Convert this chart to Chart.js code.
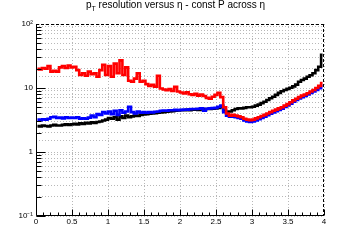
<!DOCTYPE html>
<html>
<head>
<meta charset="utf-8">
<script src="https://cdn.jsdelivr.net/npm/chart.js@4/dist/chart.umd.min.js"></script>
<style>
html,body{margin:0;padding:0;background:#fff;}
#wrap{position:relative;width:360px;height:240px;}
#title{position:absolute;left:86px;top:-1px;font:10px "Liberation Sans",Arial,sans-serif;color:#000;white-space:nowrap;}
#title sub{font-size:7px;vertical-align:-3px;line-height:0;}
canvas{position:absolute;left:0;top:0;}
</style>
</head>
<body>
<div id="wrap">
<canvas id="c" width="360" height="240"></canvas>
<div id="title">p<sub>T</sub> resolution versus η - const P across η</div>
</div>
<script>
const etaCenters = [0.02,0.06,0.10,0.14,0.18,0.22,0.26,0.30,0.34,0.38,
0.42,0.46,0.50,0.54,0.58,0.62,0.66,0.70,0.74,0.78,
0.82,0.86,0.90,0.94,0.98,1.02,1.06,1.10,1.14,1.18,
1.22,1.26,1.30,1.34,1.38,1.42,1.46,1.50,1.54,1.58,
1.62,1.66,1.70,1.74,1.78,1.82,1.86,1.90,1.94,1.98,
2.02,2.06,2.10,2.14,2.18,2.22,2.26,2.30,2.34,2.38,
2.42,2.46,2.50,2.54,2.58,2.62,2.66,2.70,2.74,2.78,
2.82,2.86,2.90,2.94,2.98,3.02,3.06,3.10,3.14,3.18,
3.22,3.26,3.30,3.34,3.38,3.42,3.46,3.50,3.54,3.58,
3.62,3.66,3.70,3.74,3.78,3.82,3.86,3.90,3.94,3.98];

const blackRes = [2.55,2.5,2.6,2.55,2.5,2.6,2.65,2.6,2.6,2.65,2.7,2.65,2.7,
2.75,2.7,2.8,2.75,2.85,2.8,2.9,2.85,2.95,3.0,3.1,3.2,
3.4,3.3,3.5,3.2,3.6,3.4,3.7,3.5,3.6,3.7,3.65,3.8,3.85,
3.9,3.95,4.0,4.05,4.1,4.15,4.2,4.25,4.3,4.35,4.4,4.45,
4.5,4.5,4.55,4.5,4.6,4.6,4.55,4.65,4.6,4.7,4.7,4.75,4.8,
4.9,5.1,4.4,4.2,4.3,4.5,4.7,4.8,4.8,4.9,5.0,5.0,
5.1,5.3,5.5,5.8,6.1,6.5,6.9,7.3,7.8,8.4,8.9,9.3,9.7,
10.1,10.6,11.3,12.5,13.3,14.0,15.0,15.8,17.0,19.0,21.5,33];

const redRes = [20,19.5,20.5,20,22,18,18.5,18,21,22,20.5,22.5,21,
21.5,19,16,17,15.5,18,16.5,17,15,19,23,16,
22,15,24,17,27,16,21,13,12.5,14,17,12.5,13,
11.5,10.8,11.2,10.5,15.5,9.8,9.5,9.2,9.6,9.0,10.4,8.8,
8.5,8.2,8.6,8.0,7.8,8.1,7.6,7.9,7.5,7.0,6.8,7.3,7.8,
8.4,7.2,5.0,4.0,3.7,3.8,3.7,3.6,3.5,3.3,3.2,3.15,
3.2,3.35,3.5,3.65,3.8,4.0,4.2,4.4,4.6,4.8,5.0,5.3,5.6,
6.0,6.4,6.8,7.2,7.6,7.9,8.3,8.8,9.3,10.0,10.8,12.0];

const blueRes = [3.2,3.15,3.25,3.2,3.3,3.5,3.55,3.4,3.45,3.35,3.5,3.4,3.45,
3.4,3.5,3.3,3.35,3.3,3.45,3.7,3.5,3.9,3.8,4.2,4.0,
4.3,3.9,4.4,3.8,4.5,4.1,4.3,5.1,4.2,4.0,4.3,4.1,4.2,
4.1,4.2,4.15,4.25,4.3,4.4,4.45,4.4,4.5,4.5,4.55,4.5,
4.55,4.6,4.6,4.65,4.7,4.7,4.75,4.8,4.4,4.75,4.8,4.85,4.9,
5.1,5.3,4.2,3.7,3.55,3.55,3.5,3.4,3.3,3.1,3.0,2.95,
3.0,3.1,3.25,3.4,3.55,3.75,3.95,4.15,4.35,4.55,4.75,5.05,5.35,
5.7,6.1,6.5,6.85,7.2,7.5,7.9,8.35,8.8,9.3,9.9,10.8];

const xTickLabels = {0:'0',0.5:'0.5',1:'1',1.5:'1.5',2:'2',2.5:'2.5',3:'3',3.5:'3.5',4:'4'};
const yTickLabels = [[0.1,'10\u207B\u00B9'],[1,'1'],[10,'10'],[100,'10\u00B2']];

function pts(ys){ return etaCenters.map((x,i)=>({x:x,y:ys[i]})); }

const axisPlugin = {
  id:'rootAxes',
  afterDatasetsDraw(chart){
    const ctx = chart.ctx, a = chart.chartArea;
    const xs = chart.scales.x, ys = chart.scales.y;
    ctx.save();
    ctx.strokeStyle = '#000';
    ctx.lineWidth = 1;
    ctx.setLineDash([]);
    ctx.beginPath();
    const L = Math.round(a.left)+0.5, B = Math.round(a.bottom)-0.5;
    ctx.moveTo(L,a.top); ctx.lineTo(L,B);
    ctx.moveTo(L,B); ctx.lineTo(a.right,B);
    for (let k=0;k<=40;k++){
      const px = Math.round(xs.getPixelForValue(k/10))+0.5;
      const len = (k%5===0)?6:3;
      ctx.moveTo(px,B); ctx.lineTo(px,B-len);
    }
    for (let e=-1;e<=1;e++){
      for (let m=1;m<=9;m++){
        const v = m*Math.pow(10,e);
        const py = Math.round(ys.getPixelForValue(v))+0.5;
        const len = (m===1)?9:5;
        ctx.moveTo(L,py); ctx.lineTo(L+len,py);
      }
    }
    ctx.stroke();
    ctx.setLineDash([3,2]);
    ctx.beginPath();
    ctx.moveTo(a.left, Math.round(a.top)+0.5); ctx.lineTo(a.right, Math.round(a.top)+0.5);
    ctx.moveTo(Math.round(a.right)-0.5, a.top); ctx.lineTo(Math.round(a.right)-0.5, a.bottom);
    ctx.stroke();
    ctx.restore();
  }
};

const ds = (label,color,ys)=>({
  label:label, data:pts(ys), borderColor:color, backgroundColor:color,
  borderWidth:2.6, pointRadius:0, stepped:'middle', fill:false
});

const gridOpts = {drawTicks:false,color:'#b8b8b8',lineWidth:1};

new Chart(document.getElementById('c'),{
  type:'line',
  data:{datasets:[ds('red','#ff0000',redRes), ds('blue','#0000ff',blueRes), ds('black','#000000',blackRes)]},
  options:{
    responsive:false, animation:false, devicePixelRatio:1,
    layout:{padding:{top:24,right:36,left:0,bottom:0}},
    plugins:{legend:{display:false},tooltip:{enabled:false},title:{display:false}},
    scales:{
      x:{type:'linear',min:0,max:4,
        afterFit(s){s.height=24;},
        border:{display:false,dash:[1,2]},
        grid:gridOpts,
        ticks:{stepSize:0.5,padding:1,maxRotation:0,autoSkip:false,color:'#000',
          font:{family:'"Liberation Sans", Arial, sans-serif',size:8},
          callback:(v)=> (xTickLabels[v]!==undefined? xTickLabels[v] : '')}
      },
      y:{type:'logarithmic',min:0.1,max:100,
        afterFit(s){s.width=36;},
        border:{display:false,dash:[1,2]},
        grid:gridOpts,
        ticks:{autoSkip:false,padding:3,color:'#000',
          font:{family:'"Liberation Sans", Arial, sans-serif',size:8},
          callback:(v)=>{ for (const [val,lab] of yTickLabels){ if (Math.abs(v-val)<1e-9*Math.max(1,val)) return lab; } return ''; }}
      }
    }
  },
  plugins:[axisPlugin]
});
</script>
</body>
</html>
